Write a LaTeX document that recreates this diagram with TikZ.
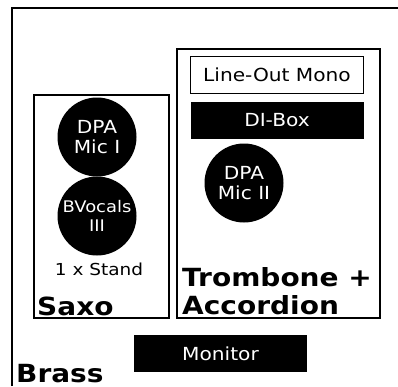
\documentclass[tikz,border=0pt]{standalone}
\usepackage{fontspec}
\setmainfont{DejaVu Sans}[FakeStretch=1.12]
\begin{document}
\begin{tikzpicture}[x=1pt,y=-1pt,
  frame/.style={draw=black,line width=1.6pt},
  box/.style={draw=black,line width=1.2pt},
  blackbox/.style={fill=black,text=white,inner sep=0pt,font=\fontsize{18}{21}\selectfont},
  mic/.style={circle,fill=black,text=white,minimum size=79pt,inner sep=0pt,align=center},
  label/.style={font=\fontsize{25}{28}\bfseries\selectfont,inner sep=0pt,anchor=base west}]
\useasboundingbox[fill=white] (0,0) rectangle (398,386);
% outer frame (Brass)
\draw[frame] (12,386) -- (12,8) -- (398,8);
% Saxo box
\draw[box] (34,95) rectangle (169,318);
% Trombone box
\draw[box] (177,49) rectangle (380,318);
% Line-Out Mono
\node[box,minimum width=173pt,minimum height=37pt,inner sep=0pt,font=\fontsize{18}{21}\selectfont] (lom) at (277,75) {Line-Out Mono};
\node[blackbox,minimum width=173pt,minimum height=37pt] (di) at (277,120.5) {DI-Box};
% mics
\node[mic,font=\fontsize{18}{20}\selectfont] (m1) at (97,137) {DPA\\Mic I};
\node[mic,font=\fontsize{16}{19}\selectfont] (bv) at (97,216) {BVocals\\III};
\node[mic,font=\fontsize{18}{20}\selectfont] (m2) at (244,183) {DPA\\Mic II};
\node[font=\fontsize{16.5}{20}\selectfont,inner sep=0pt,anchor=base] (stand) at (99,275) {1 x Stand};
% labels
\node[label] (saxo) at (37,315) {Saxo};
\node[label] (trom) at (182,286) {Trombone +};
\node[label] (acc) at (182,314) {Accordion};
\node[label] (brass) at (16,382) {Brass};
% Monitor
\node[blackbox,minimum width=173pt,minimum height=37pt] (mon) at (220.5,353.5) {Monitor};
\end{tikzpicture}
\end{document}
